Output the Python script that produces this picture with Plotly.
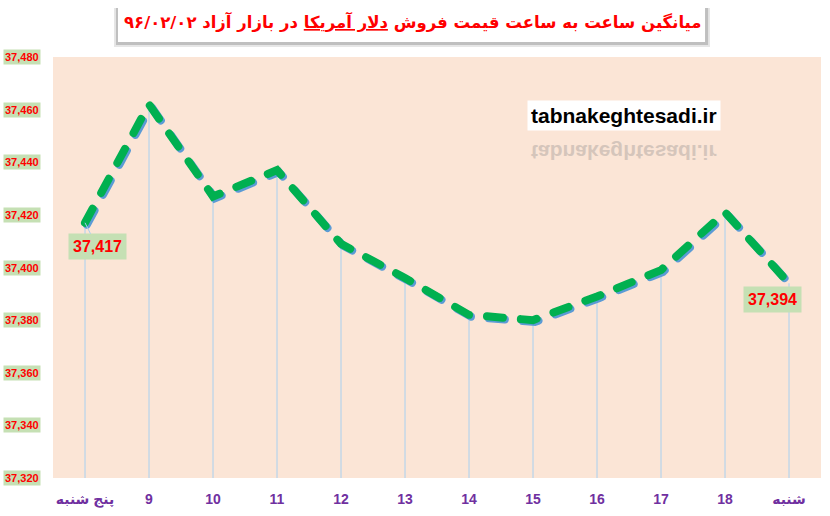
import plotly.graph_objects as go

# ---- data ----
categories = ["پنج شنبه", "9", "10", "11", "12", "13", "14", "15", "16", "17", "18", "شنبه"]
prices = [37417, 37462, 37427, 37437, 37409, 37396, 37382, 37380, 37389, 37399, 37421, 37394]
y_ticks = [37320, 37340, 37360, 37380, 37400, 37420, 37440, 37460, 37480]
y_min, y_max = 37320, 37480
title_text = ("میانگین ساعت به ساعت قیمت فروش "
              "<span style='text-decoration:underline'>دلار آمریکا</span>"
              " در بازار آزاد ۹۶/۰۲/۰۲")
watermark = "tabnakeghtesadi.ir"

pos = list(range(len(categories)))

GREEN = "#00B050"
SHADOW = "#5B9BD5"
DROP = "#A8D0F0"
RED = "#FF0000"
PURPLE = "#7030A0"
LABEL_BG = "#C5E0B4"

fig = go.Figure()

# drop lines from each point to the bottom of the axis
fig.add_trace(go.Scatter(
    x=pos, y=prices, mode="markers",
    marker=dict(size=1, opacity=0),
    error_y=dict(type="data", symmetric=False,
                 array=[0] * len(prices),
                 arrayminus=[v - y_min for v in prices],
                 width=0, thickness=1, color=DROP),
    hoverinfo="skip", showlegend=False,
))

# blue shadow of the line
fig.add_trace(go.Scatter(
    x=[p + 0.03 for p in pos], y=[v - 0.7 for v in prices], mode="lines",
    line=dict(color=SHADOW, width=8, dash="16px,18px"),
    hoverinfo="skip", showlegend=False,
))

# main dashed green line
fig.add_trace(go.Scatter(
    x=pos, y=prices, mode="lines",
    line=dict(color=GREEN, width=8, dash="16px,18px"),
    showlegend=False,
))

annotations = []
# y tick labels with green boxes
for t in y_ticks:
    annotations.append(dict(
        x=0, xref="paper", y=t, yref="y", xanchor="right", yanchor="middle",
        xshift=-12, text=f"<b>{t:,}</b>", showarrow=False,
        bgcolor=LABEL_BG, borderpad=1,
        font=dict(family="Liberation Sans", size=11, color=RED),
    ))

# data labels for first and last points
annotations.append(dict(
    x=pos[0], y=prices[0], xref="x", yref="y",
    text=f"<b>{prices[0]:,}</b>", showarrow=True, arrowhead=0,
    arrowwidth=1, arrowcolor=DROP, ax=12, ay=24,
    bgcolor=LABEL_BG, borderpad=4,
    font=dict(family="Liberation Sans", size=16, color=RED),
))
annotations.append(dict(
    x=pos[-1], y=prices[-1], xref="x", yref="y",
    text=f"<b>{prices[-1]:,}</b>", showarrow=False,
    xshift=-17, yshift=-16,
    bgcolor=LABEL_BG, borderpad=4,
    font=dict(family="Liberation Sans", size=16, color=RED),
))

# title
annotations.append(dict(
    x=0.4694, y=1.0831, xref="paper", yref="paper",
    xanchor="center", yanchor="middle",
    text=f"<b>{title_text}</b>", showarrow=False,
    font=dict(family="DejaVu Sans", size=16.5, color=RED),
))

# watermark and its reflection
annotations.append(dict(
    x=0.743, y=0.86, xref="paper", yref="paper",
    xanchor="center", yanchor="middle",
    text=f"<b>{watermark}</b>", showarrow=False,
    bgcolor="white", borderpad=3,
    font=dict(family="Liberation Sans", size=21, color="black"),
))
reflect_index = len(annotations)
annotations.append(dict(
    x=0.743, y=0.774, xref="paper", yref="paper",
    xanchor="center", yanchor="middle",
    text=f"<b>{watermark}</b>", showarrow=False,
    opacity=0.3,
    font=dict(family="Liberation Sans", size=21, color="#7F7F7F"),
))

shapes = [
    # title box soft shadow and box
    dict(type="rect", xref="paper", yref="paper",
         x0=0.0794, x1=0.8555, y0=1.0238, y1=1.1164,
         fillcolor="#E6E6E6", line=dict(width=0), layer="below"),
    dict(type="rect", xref="paper", yref="paper",
         x0=0.082, x1=0.853, y0=1.0285, y1=1.1164,
         fillcolor="#BFBFBF", line=dict(width=0), layer="below"),
    dict(type="rect", xref="paper", yref="paper",
         x0=0.0846, x1=0.849, y0=1.0356, y1=1.1235,
         fillcolor="white", line=dict(width=0), layer="below"),
]

fig.update_layout(
    width=830, height=516,
    margin=dict(l=53, r=9, t=57, b=38, autoexpand=False),
    paper_bgcolor="white",
    plot_bgcolor="#FBE5D6",
    annotations=annotations,
    shapes=shapes,
    xaxis=dict(
        range=[-0.5, len(categories) - 0.5],
        tickmode="array", tickvals=pos,
        ticktext=[f"<b>{c}</b>" for c in categories],
        showgrid=False, zeroline=False, showline=False,
        ticks="outside", ticklen=8, tickcolor="white",
        tickfont=dict(family="Liberation Sans, DejaVu Sans", size=14, color=PURPLE),
    ),
    yaxis=dict(
        range=[y_min, y_max],
        showgrid=False, zeroline=False, showline=False,
        showticklabels=False, tickvals=y_ticks,
    ),
)

post = """
document.body.style.margin = '0';
document.body.style.overflow = 'hidden';
var gd = document.getElementById('{plot_id}');
gd.querySelectorAll('.scatterlayer .js-line').forEach(function(p){
  p.style.strokeLinecap = 'round';
});
var g = gd.querySelector('g.annotation[data-index="%d"] text.annotation-text');
if (g) {
  var bb = g.getBBox();
  var cy = bb.y + bb.height / 2;
  g.setAttribute('transform', 'translate(0,' + (2 * cy) + ') scale(1,-1)');
}
""" % reflect_index

fig.write_html("out.html", post_script=post, config={"displayModeBar": False})
